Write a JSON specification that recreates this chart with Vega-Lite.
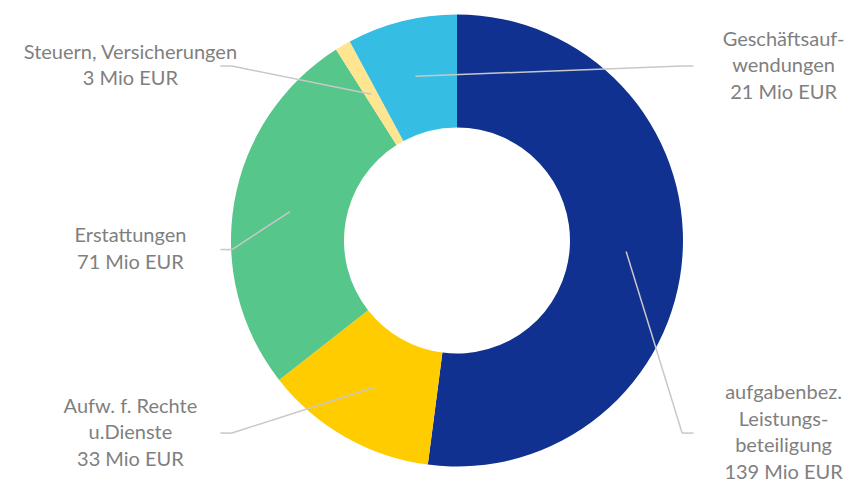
{
  "$schema": "https://vega.github.io/schema/vega-lite/v6.json",
  "width": 852,
  "height": 483,
  "padding": 0,
  "autosize": {"type": "none"},
  "background": "white",
  "config": {"view": {"stroke": null}, "axis": {"disable": true}},
  "data": {
    "values": [
      {"category": "aufgabenbez. Leistungsbeteiligung", "label": "aufgabenbez.\nLeistungs-\nbeteiligung", "value": 139},
      {"category": "Aufw. f. Rechte u.Dienste", "label": "Aufw. f. Rechte\nu.Dienste", "value": 33},
      {"category": "Erstattungen", "label": "Erstattungen", "value": 71},
      {"category": "Steuern, Versicherungen", "label": "Steuern, Versicherungen", "value": 3},
      {"category": "Geschäftsaufwendungen", "label": "Geschäftsauf-\nwendungen", "value": 21}
    ]
  },
  "transform": [
    {"window": [{"op": "sum", "field": "value", "as": "cum"}], "frame": [null, 0]},
    {"joinaggregate": [{"op": "sum", "field": "value", "as": "total"}]},
    {"calculate": "(datum.cum - datum.value) / datum.total * 2 * PI", "as": "a0"},
    {"calculate": "datum.cum / datum.total * 2 * PI", "as": "a1"},
    {"calculate": "(datum.a0 + datum.a1) / 2", "as": "mid"},
    {"calculate": "sin(datum.mid) * 0.75", "as": "x0"},
    {"calculate": "cos(datum.mid) * 0.75", "as": "y0"},
    {"calculate": "sin(datum.mid) > -0.3 ? 1 : -1", "as": "side"},
    {"window": [{"op": "rank", "as": "rk"}], "groupby": ["side"], "sort": [{"field": "y0", "order": "descending"}]},
    {"joinaggregate": [{"op": "count", "as": "n"}], "groupby": ["side"]},
    {"calculate": "datum.n > 1 ? 0.772 - (datum.rk - 1) / (datum.n - 1) * 1.624 : 0", "as": "yl"},
    {"calculate": "datum.side * 0.996", "as": "xe"},
    {"calculate": "datum.side * 1.047", "as": "xs"},
    {"calculate": "datum.side * 1.445", "as": "xt"},
    {"calculate": "datum.label + '\\n' + datum.value + ' Mio EUR'", "as": "txt"},
    {"calculate": "length(split(datum.txt, '\\n'))", "as": "nl"},
    {"calculate": "datum.yl + (datum.nl - 1) * 0.5 * 26.5 / 226", "as": "yt"}
  ],
  "layer": [
    {
      "mark": {"type": "arc", "outerRadius": 226, "innerRadius": 113, "stroke": null},
      "encoding": {
        "x": {"datum": 0, "type": "quantitative", "axis": null, "scale": {"domain": [-2.0221, 1.7478], "nice": false, "zero": false}},
        "y": {"datum": 0, "type": "quantitative", "axis": null, "scale": {"domain": [-1.073, 1.0642], "nice": false, "zero": false}},
        "theta": {"field": "a0", "type": "quantitative", "scale": null, "stack": null},
        "theta2": {"field": "a1"},
        "color": {
          "field": "category", "type": "nominal", "legend": null,
          "scale": {
            "domain": ["aufgabenbez. Leistungsbeteiligung", "Aufw. f. Rechte u.Dienste", "Erstattungen", "Steuern, Versicherungen", "Geschäftsaufwendungen"],
            "range": ["#10318F", "#FFCC00", "#57C68A", "#FFE590", "#35BDE4"]
          }
        }
      }
    },
    {
      "mark": {"type": "rule", "color": "#C8C8C8", "strokeWidth": 1.5},
      "encoding": {
        "x": {"field": "x0", "type": "quantitative", "axis": null, "scale": {"domain": [-2.0221, 1.7478], "nice": false, "zero": false}},
        "y": {"field": "y0", "type": "quantitative", "axis": null, "scale": {"domain": [-1.073, 1.0642], "nice": false, "zero": false}},
        "x2": {"field": "xe"},
        "y2": {"field": "yl"}
      }
    },
    {
      "mark": {"type": "rule", "color": "#C8C8C8", "strokeWidth": 1.5},
      "encoding": {
        "x": {"field": "xe", "type": "quantitative", "axis": null, "scale": {"domain": [-2.0221, 1.7478], "nice": false, "zero": false}},
        "y": {"field": "yl", "type": "quantitative", "axis": null, "scale": {"domain": [-1.073, 1.0642], "nice": false, "zero": false}},
        "x2": {"field": "xs"}
      }
    },
    {
      "mark": {"type": "text", "align": "center", "baseline": "middle", "lineBreak": "\n", "lineHeight": 26.5, "font": "Lato", "fontSize": 20, "color": "#7F7F7F"},
      "encoding": {
        "x": {"field": "xt", "type": "quantitative", "axis": null, "scale": {"domain": [-2.0221, 1.7478], "nice": false, "zero": false}},
        "y": {"field": "yt", "type": "quantitative", "axis": null, "scale": {"domain": [-1.073, 1.0642], "nice": false, "zero": false}},
        "text": {"field": "txt", "type": "nominal"}
      }
    }
  ]
}
